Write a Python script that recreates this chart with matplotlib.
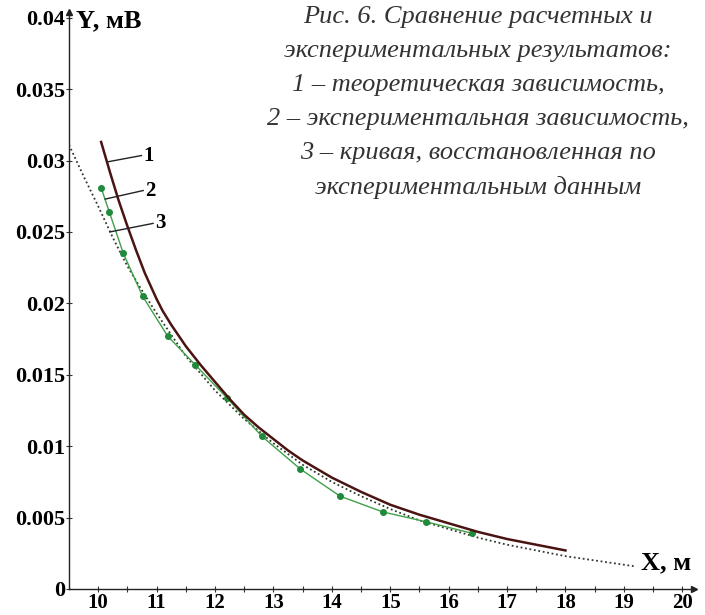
import numpy as np
import matplotlib
matplotlib.use("Agg")
import matplotlib.pyplot as plt

plt.rcParams['font.family'] = ['Liberation Serif', 'DejaVu Serif']

# 1 - theoretical curve
x_theory = [10.05, 10.2, 10.35, 10.5, 10.65, 10.8, 10.9, 11.0, 11.1, 11.25, 11.5, 11.75, 12.0,
            12.25, 12.5, 12.75, 13.0, 13.25, 13.5, 13.75, 14.0, 14.5, 15.0, 15.5, 16.0, 16.5,
            17.0, 17.5, 18.0]
y_theory = [0.0313, 0.0292, 0.0272, 0.0254, 0.0237, 0.0221, 0.0212, 0.0203, 0.0195, 0.0185,
            0.0170, 0.0157, 0.0145, 0.0133, 0.0122, 0.0113, 0.0105, 0.0097, 0.0090, 0.0084,
            0.0078, 0.0068, 0.0059, 0.0052, 0.0046, 0.0040, 0.0035, 0.0031, 0.0027]

# 2 - experimental points
x_exp = [10.05, 10.19, 10.43, 10.76, 11.19, 11.66, 12.20, 12.80, 13.46, 14.14, 14.87, 15.62, 16.40]
y_exp = [0.0281, 0.0264, 0.0235, 0.0205, 0.0177, 0.0157, 0.0134, 0.0107, 0.0084, 0.0065,
         0.0054, 0.0047, 0.0039]

# 3 - restored curve
x_rest = [9.5, 9.75, 10.0, 10.25, 10.5, 10.75, 11.0, 11.5, 12.0, 12.5, 13.0, 13.5, 14.0, 14.5,
          15.0, 15.5, 16.0, 16.5, 17.0, 17.5, 18.0, 18.5, 19.0, 19.2]
y_rest = [0.0311, 0.0289, 0.0268, 0.0246, 0.0226, 0.0209, 0.0193, 0.0163, 0.0139, 0.0119,
          0.0102, 0.0087, 0.0075, 0.0065, 0.0056, 0.0048, 0.0042, 0.0036, 0.0031, 0.0027,
          0.0023, 0.0020, 0.0017, 0.00158]

x_ticks = list(range(10, 21))
y_ticks = [0, 0.005, 0.01, 0.015, 0.02, 0.025, 0.03, 0.035, 0.04]
y_labels = ["0", "0.005", "0.01", "0.015", "0.02", "0.025", "0.03", "0.035", "0.04"]

caption = ("Рис. 6. Сравнение расчетных и\n"
           "экспериментальных результатов:\n"
           "1 – теоретическая зависимость,\n"
           "2 – экспериментальная зависимость,\n"
           "3 – кривая, восстановленная по\n"
           "экспериментальным данным")

fig = plt.figure(figsize=(7.05, 6.15), dpi=100)
ax = fig.add_axes([69/705, 26/615, 625/705, 577/615])

ax.plot(x_rest, y_rest, color="#2f3a2c", linestyle=(0, (1, 1.5)), linewidth=1.3)
ax.plot(x_exp, y_exp, color="#3fa048", linewidth=1.0, marker="o", markersize=4,
        markerfacecolor="#1f8a3a", markeredgecolor="#1f8a3a")
ax.plot(x_theory, y_theory, color="#4a1412", linewidth=1.8)

ax.set_xlim(9.5, 20.2)
ax.set_ylim(0, 0.0404)

for s in ["top", "right"]:
    ax.spines[s].set_visible(False)
for s in ["left", "bottom"]:
    ax.spines[s].set_color("#222222")
    ax.spines[s].set_linewidth(1.0)
ax.plot(0, 1, "^", color="#222222", markersize=5, transform=ax.transAxes, clip_on=False)
ax.plot(1, 0, ">", color="#222222", markersize=5, transform=ax.transAxes, clip_on=False)

ax.set_xticks(x_ticks)
ax.set_xticks(np.arange(10.5, 20, 1.0), minor=True)
ax.set_yticks(y_ticks)
ax.set_yticklabels(y_labels)
ax.tick_params(axis="both", which="both", direction="inout", length=4, width=0.8,
               colors="#333333", labelcolor="black", labelsize=16, pad=1)
ax.tick_params(axis="x", labelsize=15, pad=1)
for lab in ax.get_xticklabels() + ax.get_yticklabels():
    lab.set_fontweight("bold")

ax.text(9.62, 0.0398, "Y, мВ", fontsize=19, fontweight="bold", va="center", ha="left")
ax.text(20.15, 0.0010, "X, м", fontsize=19, fontweight="bold", va="bottom", ha="right")

ax.text(478/705, 1 - 6/615, caption, transform=fig.transFigure, fontsize=19, style="italic",
        color="#333333", ha="center", va="top", linespacing=1.7)

# curve labels
for (x0, y0), (x1, y1), t in [((10.15, 0.0299), (10.74, 0.03035), "1"),
                               ((10.12, 0.0273), (10.77, 0.0279), "2"),
                               ((10.20, 0.0250), (10.94, 0.0256), "3")]:
    ax.plot([x0, x1], [y0, y1], color="#222222", linewidth=1.0)
    ax.text(x1 + 0.03, y1, t, fontsize=15, fontweight="bold", va="center", ha="left")

fig.savefig("out.png", dpi=100)
